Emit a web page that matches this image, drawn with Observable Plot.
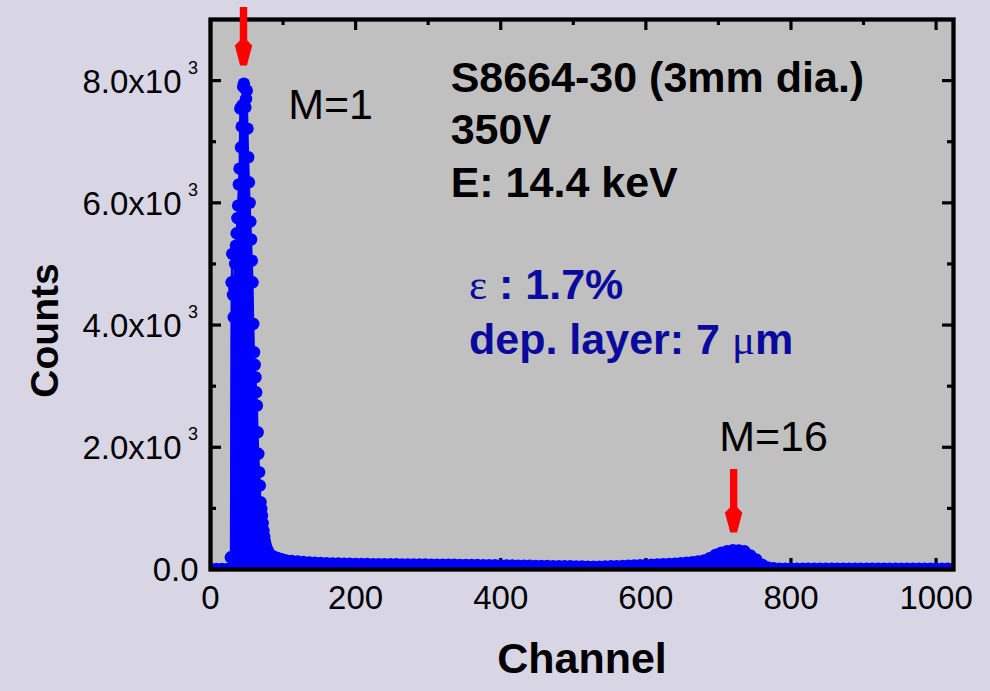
<!DOCTYPE html>
<html>
<head>
<meta charset="utf-8">
<script src="https://cdn.jsdelivr.net/npm/d3@7"></script>
<script src="https://cdn.jsdelivr.net/npm/@observablehq/plot@0.6"></script>
<style>
  html, body { margin: 0; padding: 0; background: #d8d5e4; }
  #chart svg { display: block; }
</style>
</head>
<body>
<div id="chart"></div>
<script>
// Pulse-height spectrum of an S8664-30 APD (3 mm dia.) at 350 V, 14.4 keV X-rays.
// Channel numbers and counts; the M=1 peak is listed channel by channel,
// the long tail and the M=16 bump every few channels.
const spectrumChannels = [
  0, 8, 16, 24, 27, 28,
  29, 30, 31, 32, 33, 34, 35, 36, 37, 38, 39, 40, 41, 42, 43, 44, 45, 46, 47, 48,
  49, 50, 51, 52, 53, 54, 55, 56, 57, 58, 59, 60, 61, 62, 63, 64, 65, 66, 67, 68,
  69, 70, 71, 72, 73, 74, 75, 76, 77, 78, 79, 80,
  84, 88, 92, 96, 100, 104,
  112, 120, 128, 136, 144, 152, 160, 168, 176, 184, 192, 200, 208, 216, 224, 232,
  240, 248, 256, 264, 272, 280, 288, 296, 304, 312, 320, 328, 336, 344, 352, 360,
  368, 376, 384, 392, 400, 408, 416, 424, 432, 440, 448, 456, 464, 472, 480, 488,
  496, 504, 512, 520, 528, 536, 544, 552, 560, 568, 576, 584, 592, 600, 608, 616,
  624, 632, 640, 648, 656, 664, 672, 680, 688, 696, 704, 712, 720, 728, 736, 744,
  752, 760, 768, 776, 784, 792, 800, 808, 816, 824, 832, 840, 848, 856, 864, 872,
  880, 888, 896, 904, 912, 920, 928, 936, 944, 952, 960, 968, 976, 984, 992, 1000,
  1008, 1016, 1024
];
const spectrumCounts = [
  10, 10, 10, 10, 12, 200,
  4700, 5165, 4494, 4128, 4600, 5000, 5300, 5502, 5750, 5955, 6300, 6560, 7542, 6909, 7247, 7600, 7900, 7950, 7880, 7563,
  7700, 7836, 7215, 6746, 6336, 6000, 5693, 5400, 5055, 4700, 4020, 3555, 3350, 3146, 2900, 2683, 2246, 1893, 1592, 1374,
  1101, 990, 883, 760, 638, 540, 460, 400, 350, 320, 300, 280,
  230, 205, 188, 172, 160, 150,
  138, 130, 122, 116, 110, 106, 102, 100, 97, 95, 93, 91, 90, 89, 88, 87,
  86, 85, 85, 84, 83, 82, 82, 81, 80, 79, 78, 78, 77, 76, 75, 74,
  73, 72, 70, 69, 68, 66, 65, 64, 62, 61, 60, 58, 57, 56, 55, 53,
  52, 50, 49, 47, 46, 46, 48, 52, 55, 58, 62, 66, 69, 73, 77, 81,
  85, 90, 96, 104, 112, 121, 132, 150, 185, 240, 275, 300, 314, 312, 298, 230,
  165, 80, 35, 20, 14, 13, 13, 12, 13, 12, 13, 12, 12, 13, 12, 12,
  13, 12, 12, 13, 12, 12, 12, 13, 12, 12, 12, 12, 12, 13, 12, 12,
  12, 12, 12
];

// Axis ticks and their labels
const xMajorTicks = [0, 200, 400, 600, 800, 1000];
const xMinorTicks = [100, 300, 500, 700, 900];
const yMajorTicks = [0, 2000, 4000, 6000, 8000];
const yMinorTicks = [1000, 3000, 5000, 7000];
const yTickMantissa = ["0.0", "2.0x10", "4.0x10", "6.0x10", "8.0x10"];
const yTickExponent = ["", "3", "3", "3", "3"];
const xTitle = "Channel";
const yTitle = "Counts";
const yTitleCounts = 3911;

// Peak markers (red arrows) and their labels
const arrowChannels = [45.5, 721];
const arrowTopCounts = [9196, 1636];
const arrowShaftEndCounts = [8570, 930];
const arrowTipCounts = [8247, 605];
const peakLabels = ["M=1", "M=16"];
const peakLabelChannels = [107, 701];
const peakLabelCounts = [7364, 1936];

// Device / measurement notes
const noteLines = ["S8664-30 (3mm dia.)", "350V", "E: 14.4 keV"];
const noteChannel = 331;
const noteCounts = [7810, 6966, 6092];
const resultChannel = 357;
const resultCounts = [4413, 3518];

const spectrum = spectrumChannels.map((c, i) => ({channel: c, counts: spectrumCounts[i]}));
const yTickRows = yMajorTicks.map((v, i) => ({v, mant: yTickMantissa[i], exp: yTickExponent[i]}));
const arrows = arrowChannels.map((c, i) => ({c, top: arrowTopCounts[i], end: arrowShaftEndCounts[i], tip: arrowTipCounts[i]}));
const peaks = peakLabels.map((t, i) => ({t, c: peakLabelChannels[i], n: peakLabelCounts[i]}));
const notes = noteLines.map((t, i) => ({t, n: noteCounts[i]}));

const W = 990, H = 691;
const mL = 210, mR = 37, mT = 19, mB = 122;
const innerW = W - mL - mR, innerH = H - mT - mB;
const SANS = "'Liberation Sans', Arial, Helvetica, sans-serif";
const SERIF = "'Liberation Serif', 'Times New Roman', serif";
const BLUE = "#0000ff";
const TEXT_BLUE = "#0a0a9e";

// Filled downward arrowhead, tip at the anchor point
const arrowHead = {
  draw(context, size) {
    const s = Math.sqrt(size / Math.PI);
    context.moveTo(-3.7 * s, -25 * s);
    context.lineTo(3.7 * s, -25 * s);
    context.lineTo(8.7 * s, -20 * s);
    context.lineTo(3.4 * s, 0);
    context.lineTo(-3.4 * s, 0);
    context.lineTo(-8.7 * s, -20 * s);
    context.closePath();
  }
};

const tick = {stroke: "black", strokeWidth: 3.2};

const chart = Plot.plot({
  width: W,
  height: H,
  marginLeft: mL,
  marginRight: mR,
  marginTop: mT,
  marginBottom: mB,
  style: {background: "#d8d5e4", fontFamily: SANS, color: "black", overflow: "visible"},
  x: {domain: [0, 1024], axis: null},
  y: {domain: [0, 9000], axis: null},
  marks: [
    Plot.frame({fill: "#c0c0c0"}),
    // inward ticks on all four sides
    Plot.ruleX(xMajorTicks, {x: d => d, insetTop: innerH - 11, ...tick}),
    Plot.ruleX(xMinorTicks, {x: d => d, insetTop: innerH - 6, ...tick}),
    Plot.ruleX(xMajorTicks, {x: d => d, insetBottom: innerH - 11, ...tick}),
    Plot.ruleX(xMinorTicks, {x: d => d, insetBottom: innerH - 6, ...tick}),
    Plot.ruleY(yMajorTicks, {y: d => d, insetRight: innerW - 11, ...tick}),
    Plot.ruleY(yMinorTicks, {y: d => d, insetRight: innerW - 6, ...tick}),
    Plot.ruleY(yMajorTicks, {y: d => d, insetLeft: innerW - 11, ...tick}),
    Plot.ruleY(yMinorTicks, {y: d => d, insetLeft: innerW - 6, ...tick}),
    // spectrum: fill, connecting line and symbols
    Plot.areaY(spectrum, {x: "channel", y: "counts", fill: BLUE, clip: true}),
    Plot.lineY(spectrum, {x: "channel", y: "counts", stroke: BLUE, strokeWidth: 2, clip: true}),
    Plot.dot(spectrum, {x: "channel", y: "counts", r: 6.2, fill: BLUE, clip: true}),
    Plot.frame({stroke: "black", strokeWidth: 4.3}),
    // tick labels
    Plot.text(xMajorTicks, {x: d => d, frameAnchor: "bottom", text: d => String(d), dy: 39, lineAnchor: "bottom", fontSize: 33, fill: "black"}),
    Plot.text(yTickRows.filter(d => d.exp), {y: "v", frameAnchor: "left", text: "mant", textAnchor: "end", dx: -29, dy: 12, lineAnchor: "bottom", fontSize: 33, fill: "black"}),
    Plot.text(yTickRows.filter(d => d.exp), {y: "v", frameAnchor: "left", text: "exp", textAnchor: "start", dx: -22.5, dy: -7, lineAnchor: "bottom", fontSize: 18, fill: "black"}),
    Plot.text(yTickRows.filter(d => !d.exp), {y: "v", frameAnchor: "left", text: "mant", textAnchor: "end", dx: -12, dy: 11, lineAnchor: "bottom", fontSize: 33, fill: "black"}),
    // axis titles
    Plot.text([xTitle], {frameAnchor: "bottom", text: d => d, textAnchor: "middle", dy: 103, lineAnchor: "bottom", fontSize: 43, fontWeight: "bold", fill: "black"}),
    Plot.text([yTitle], {y: () => yTitleCounts, frameAnchor: "left", text: d => d, textAnchor: "middle", dx: -153, rotate: -90, lineAnchor: "bottom", fontSize: 39, fontWeight: "bold", fill: "black"}),
    // peak arrows and labels
    Plot.ruleX(arrows, {x: "c", y1: "top", y2: "end", stroke: "#ff0000", strokeWidth: 7.4}),
    Plot.dot(arrows, {x: "c", y: "tip", r: 1, symbol: arrowHead, fill: "#ff0000"}),
    Plot.text(peaks, {x: "c", y: "n", text: "t", textAnchor: "start", lineAnchor: "bottom", fontSize: 43, fill: "black"}),
    // notes
    Plot.text(notes, {x: () => noteChannel, y: "n", text: "t", textAnchor: "start", lineAnchor: "bottom", fontSize: 43, fontWeight: "bold", fill: "black"})
  ]
});

document.getElementById("chart").appendChild(chart);

// Fit results in blue, mixing a serif Greek letter with bold sans text
const sx = chart.scale("x"), sy = chart.scale("y");
const lin = s => s.apply ? v => s.apply(v)
  : v => s.range[0] + (v - s.domain[0]) / (s.domain[1] - s.domain[0]) * (s.range[1] - s.range[0]);
const X = lin(sx), Y = lin(sy);
const resultRuns = [
  [{t: "\u03b5", serif: true}, {t: " : 1.7%"}],
  [{t: "dep. layer: 7 "}, {t: "\u03bc", serif: true}, {t: "m"}]
];
const g = d3.select(chart).append("g")
  .attr("fill", TEXT_BLUE)
  .attr("font-size", 43)
  .attr("text-anchor", "start");
resultRuns.forEach((runs, i) => {
  const t = g.append("text")
    .attr("x", X(resultChannel))
    .attr("y", Y(resultCounts[i]))
    .attr("text-anchor", "start");
  runs.forEach(r => {
    t.append("tspan")
      .attr("font-family", r.serif ? SERIF : SANS)
      .attr("font-weight", r.serif ? "normal" : "bold")
      .style("white-space", "pre")
      .text(r.t);
  });
});
</script>
</body>
</html>
